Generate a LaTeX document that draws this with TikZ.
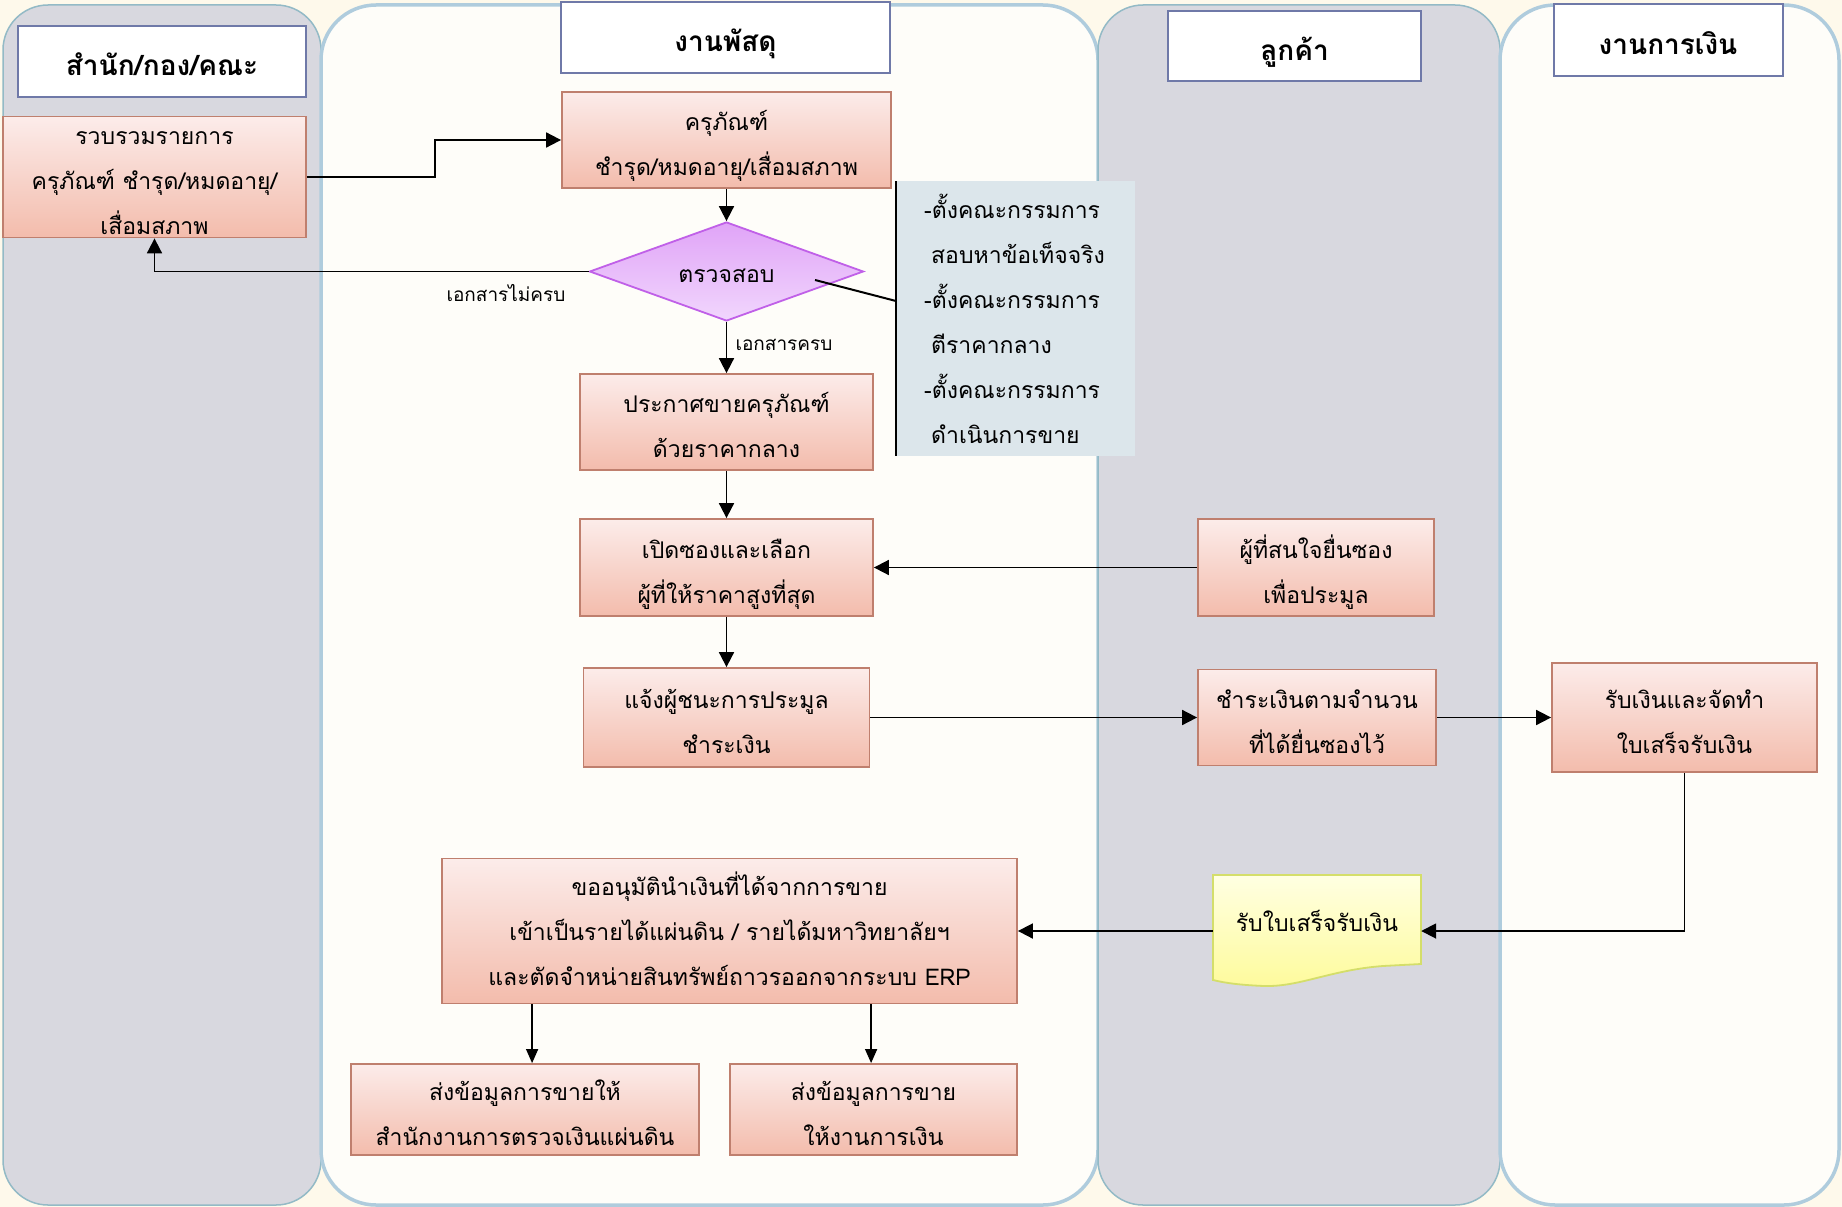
\documentclass[tikz,border=0pt]{standalone}
\usepackage{fontspec}
\setmainfont[Script=Thai]{Loma}
\usetikzlibrary{arrows.meta,shapes.geometric,calc}

\definecolor{bgcream}{HTML}{FEF9EB}
\definecolor{lanegray}{HTML}{D8D8DF}
\definecolor{lanegrayedge}{HTML}{93BAC6}
\definecolor{lanewhite}{HTML}{FEFDF9}
\definecolor{lanewhiteedge}{HTML}{AFCCDD}
\definecolor{hdredge}{HTML}{6F79A8}
\definecolor{proctop}{HTML}{FCECEA}
\definecolor{procbot}{HTML}{F3BCAC}
\definecolor{procedge}{HTML}{BF7F6E}
\definecolor{diatop}{HTML}{E0A4F7}
\definecolor{diabot}{HTML}{F1D6FD}
\definecolor{diaedge}{HTML}{C060E8}
\definecolor{notefill}{HTML}{DCE6EB}
\definecolor{doctop}{HTML}{FFFFE2}
\definecolor{docbot}{HTML}{FEFB9C}
\definecolor{docedge}{HTML}{D4DE6A}

\newcommand{\boxfont}{\fontsize{23}{45}\selectfont}
\newcommand{\hdrfont}{\fontsize{28}{32}\selectfont\bfseries}
\newcommand{\lblfont}{\fontsize{19}{22}\selectfont}
% fixed first-line height and last-line depth, so every text sits alike
\newcommand{\txtup}{\rule{0pt}{36pt}}
\newcommand{\txtdn}{\rule[-10pt]{0pt}{10pt}}
\newcommand{\oneline}[1]{\rule[-12pt]{0pt}{46pt}#1}
\newcommand{\hdrline}[1]{\rule[-9.5pt]{0pt}{48pt}#1}

\tikzset{
  lanegrey/.style={fill=lanegray, draw=lanegrayedge, line width=1.5pt, rounded corners=45pt},
  lanelight/.style={fill=lanewhite, draw=lanewhiteedge, line width=3.5pt, rounded corners=55pt},
  hdr/.style={draw=hdredge, line width=2pt, fill=white, font=\hdrfont, inner sep=0pt},
  proc/.style={draw=procedge, line width=1.8pt, top color=proctop, bottom color=procbot,
    align=center, inner sep=0pt, font=\boxfont},
  arr/.style={line width=1.8pt, -{Triangle[length=15pt,width=15pt]}},
  thinarr/.style={line width=1.4pt, -{Triangle[length=14pt,width=12pt]}},
}

\begin{document}
\begin{tikzpicture}[x=1pt,y=-1pt]
\useasboundingbox (0,0) rectangle (1842,1207);
\fill[bgcream] (0,0) rectangle (1842,1207);

% swim lanes
\draw[lanegrey]  (3,5)    rectangle (321,1205);
\draw[lanelight] (321,5)  rectangle (1098,1205);
\draw[lanegrey]  (1098,5) rectangle (1500,1205);
\draw[lanelight] (1500,5) rectangle (1839,1205);

% lane headers
\node[hdr, minimum width=288pt, minimum height=71pt] (h1) at (162,61.5) {\hdrline{สำนัก/กอง/คณะ}};
\node[hdr, minimum width=329pt, minimum height=71pt] (h2) at (725.5,37.5) {\hdrline{งานพัสดุ}};
\node[hdr, minimum width=253pt, minimum height=70pt] (h3) at (1294.5,46) {\hdrline{ลูกค้า}};
\node[hdr, minimum width=229pt, minimum height=72pt] (h4) at (1668,40) {\hdrline{งานการเงิน}};

% process steps
\node[proc, minimum width=303pt, minimum height=121pt] (b1) at (154.5,177)
  {\rule{0pt}{28pt}รวบรวมรายการ\\ครุภัณฑ์ ชำรุด/หมดอายุ/\\เสื่อมสภาพ\rule[-3pt]{0pt}{3pt}};
\node[proc, minimum width=329pt, minimum height=96pt] (b2) at (726.5,140)
  {\txtup ครุภัณฑ์\\ชำรุด/หมดอายุ/เสื่อมสภาพ\txtdn};
\node[diamond, draw=diaedge, line width=1.8pt, top color=diatop, bottom color=diabot,
  minimum width=274pt, minimum height=99pt, aspect=2.77, inner sep=0pt, font=\boxfont]
  (dia) at (726.5,271.5) {\oneline{ตรวจสอบ}};
\node[proc, minimum width=293pt, minimum height=96pt] (b3) at (726.5,422)
  {\txtup ประกาศขายครุภัณฑ์\\ด้วยราคากลาง\txtdn};
\node[proc, minimum width=293pt, minimum height=97pt] (b4) at (726.5,567.5)
  {\txtup เปิดซองและเลือก\\ผู้ที่ให้ราคาสูงที่สุด\txtdn};
\node[proc, minimum width=286pt, minimum height=99pt] (b5) at (726.5,717.5)
  {\txtup แจ้งผู้ชนะการประมูล\\ชำระเงิน\txtdn};
\node[proc, minimum width=236pt, minimum height=97pt] (b6) at (1316,567.5)
  {\txtup ผู้ที่สนใจยื่นซอง\\เพื่อประมูล\txtdn};
\node[proc, minimum width=238pt, minimum height=96pt] (b7) at (1317,717.5)
  {\txtup ชำระเงินตามจำนวน\\ที่ได้ยื่นซองไว้\txtdn};
\node[proc, minimum width=265pt, minimum height=109pt] (b8) at (1684.5,717.5)
  {\txtup รับเงินและจัดทำ\\ใบเสร็จรับเงิน\txtdn};
\node[proc, minimum width=575pt, minimum height=145pt] (b9) at (729.5,931)
  {\rule{0pt}{32pt}ขออนุมัตินำเงินที่ได้จากการขาย\\เข้าเป็นรายได้แผ่นดิน / รายได้มหาวิทยาลัยฯ\\และตัดจำหน่ายสินทรัพย์ถาวรออกจากระบบ ERP\rule[-14pt]{0pt}{14pt}};
\node[proc, minimum width=348pt, minimum height=91pt] (b10) at (525,1109.5)
  {\txtup ส่งข้อมูลการขายให้\\สำนักงานการตรวจเงินแผ่นดิน\txtdn};
\node[proc, minimum width=287pt, minimum height=91pt] (b11) at (873.5,1109.5)
  {\txtup ส่งข้อมูลการขาย\\ให้งานการเงิน\txtdn};

% receipt document
\path[top color=doctop, bottom color=docbot, draw=docedge, line width=1.8pt]
  (1213,875) -- (1421,875) -- (1421,964) -- (1383,966)
  .. controls (1330,970) and (1300,987) .. (1264,986)
  .. controls (1240,985) and (1225,983) .. (1213,980) -- cycle;
\node[minimum width=208pt, minimum height=112pt, inner sep=0pt, font=\boxfont]
  (doc) at (1317,931) {\rule[-28pt]{0pt}{57pt}รับใบเสร็จรับเงิน};

% committee note
\node[fill=notefill, anchor=north west, minimum width=239pt, minimum height=275pt,
  inner xsep=28pt, inner ysep=0pt, text width=183pt, align=left, font=\boxfont]
  (note) at (896,181)
  {-ตั้งคณะกรรมการ\\\hspace*{7pt}สอบหาข้อเท็จจริง\\-ตั้งคณะกรรมการ\\\hspace*{7pt}ตีราคากลาง\\-ตั้งคณะกรรมการ\\\hspace*{7pt}ดำเนินการขาย};
\draw[line width=2pt] (note.north west) -- (note.south west);
\coordinate (diatail) at (815,280);
\coordinate (notejoin) at (896,301);
\draw[line width=2pt] (diatail) -- (notejoin);

% flow
\draw[arr] (b1.east) -- ++(128,0) |- (b2.west);
\draw[arr] (b2.south) -- (dia.north);
\draw[arr] (dia.west) -| (b1.south);
\node[font=\lblfont] (lno) at (506,293) {เอกสารไม่ครบ};
\draw[arr] (dia.south) -- (b3.north);
\node[font=\lblfont, anchor=west] (lyes) at (732,345) {เอกสารครบ};
\draw[arr] (b3.south) -- (b4.north);
\draw[arr] (b6.west) -- (b6.west -| b4.east);
\draw[arr] (b4.south) -- (b5.north);
\draw[arr] (b5.east) -- (b5.east -| b7.west);
\draw[arr] (b7.east) -- (b7.east -| b8.west);
\draw[arr] (b8.south) |- (doc.east);
\draw[arr] (doc.west) -- (doc.west -| b9.east);
\path (b9.south west) ++(91,0) coordinate (s1);
\path (b9.south west) ++(430,0) coordinate (s2);
\draw[thinarr] (s1) -- (s1 |- b10.north);
\draw[thinarr] (s2) -- (s2 |- b11.north);
\end{tikzpicture}
\end{document}
